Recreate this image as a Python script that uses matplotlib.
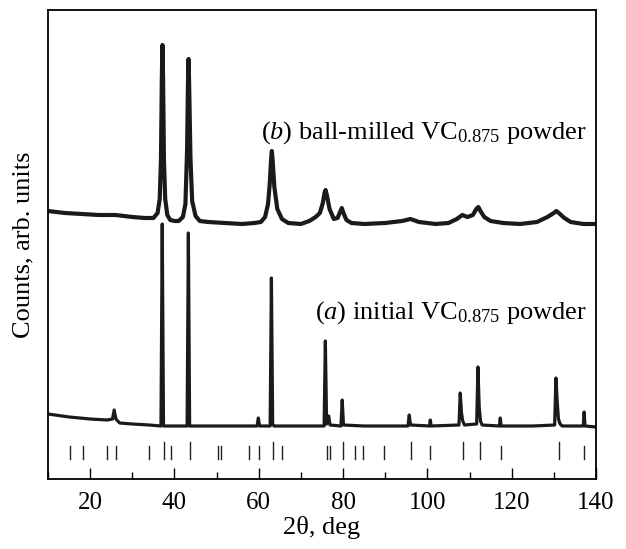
# -*- coding: utf-8 -*-

import matplotlib
matplotlib.use("Agg")
import matplotlib.pyplot as plt
from matplotlib.ticker import MultipleLocator

# (b) ball-milled powder trace: 2theta, counts (arb.)
tth_b = [10, 14, 18, 22, 26, 30, 33, 35, 36, 36.5, 36.8, 37.0, 37.15, 37.3, 37.5, 37.8, 38.3, 39,
         40, 41, 42, 42.6, 43.0, 43.2, 43.35, 43.5, 43.8, 44.2, 45, 46, 48, 52, 56, 59,
         60.5, 61.5, 62.2, 62.6, 62.9, 63.1, 63.3, 63.7, 64.4, 65.5, 67, 70, 72, 73.5, 74.5,
         75.2, 75.6, 75.85, 76.2, 76.8, 77.8, 78.7, 79.3, 79.7, 80.1, 80.8, 82, 85, 90, 94,
         96, 98, 102, 105, 107, 108.3, 109.5, 110.8, 111.6, 112.1, 112.6, 113.5, 115, 118,
         122, 126, 128.5, 130, 130.6, 131.2, 132.5, 134, 137, 140]
cnt_b = [268, 266, 265, 264, 264, 262, 261, 261, 266, 280, 320, 400, 434, 400, 320, 280, 264, 259,
         258, 258, 262, 275, 330, 395, 420, 390, 320, 278, 263, 258, 257, 256, 255, 256,
         257, 262, 275, 295, 318, 328, 318, 292, 270, 260, 256, 255, 258, 262, 266,
         276, 286, 289, 283, 270, 260, 261, 267, 271, 266, 259, 256, 255, 256, 258,
         260, 257, 255, 256, 260, 264, 262, 264, 270, 272, 268, 262, 258, 256,
         255, 257, 262, 266, 268, 266, 261, 257, 255, 255]

# (a) initial powder trace
tth_a = [10, 15, 20, 24, 25.3, 25.7, 26.1, 27, 30, 34, 36.8, 37.1, 37.4, 40, 43.0, 43.3, 43.6,
         50, 55, 59.6, 59.9, 60.2, 62.7, 63.0, 63.3, 63.6, 70, 75.5, 75.8, 76.1, 76.6, 76.9,
         79.5, 79.8, 80.1, 85, 90, 95.4, 95.7, 96.0, 100.5, 100.7, 100.9, 107.5, 107.8, 108.1,
         108.4, 108.8, 111.7, 112.0, 112.3, 112.6, 113, 117.1, 117.3, 117.5, 125, 130.2, 130.5,
         130.8, 131.1, 131.5, 132, 137.0, 137.2, 137.4, 140]
cnt_a = [65, 62, 60, 59, 60, 69, 60, 56, 55, 54, 53, 255, 53, 53, 53, 246, 53,
         53, 53, 53, 61, 53, 53, 201, 55, 53, 53, 53, 138, 55, 63, 54,
         53, 79, 54, 53, 53, 53, 64, 54, 53, 59, 53, 54, 86, 66,
         58, 54, 55, 112, 72, 58, 54, 53, 61, 53, 53, 54, 101,
         78, 60, 55, 53, 53, 67, 53, 52]

# reference stick pattern (positions, tall or short)
stick_pos = [15.2, 18.2, 24.1, 26.1, 34.0, 37.4, 39.1, 43.6, 50.3, 51.1, 57.6, 60.0, 63.4, 65.4,
             76.1, 76.9, 80.1, 82.9, 84.8, 89.6, 96.1, 100.7, 108.4, 112.4, 117.4, 131.2, 137.1]
stick_tall = [0, 0, 0, 0, 0, 1, 0, 1, 0, 0, 0, 0, 1, 0,
              0, 0, 1, 0, 0, 0, 1, 0, 1, 1, 0, 1, 0]

label_b = r'($\mathit{b}$) ball-milled VC$_{0.875}$ powder'
label_a = r'($\mathit{a}$) initial VC$_{0.875}$ powder'


def draw():
    plt.rcParams['font.family'] = ['Liberation Serif', 'DejaVu Serif']
    plt.rcParams['mathtext.fontset'] = 'custom'
    plt.rcParams['mathtext.rm'] = 'Liberation Serif'
    plt.rcParams['mathtext.it'] = 'Liberation Serif:italic'

    fig = plt.figure(figsize=(6.26, 5.49), dpi=100)
    ax = fig.add_axes([0.0767, 0.1275, 0.8753, 0.8543])

    # noisy traces in the original look like a thick band
    ax.plot(tth_a, cnt_a, color='#1a1a1a', lw=2.3)
    ax.plot(tth_b, cnt_b, color='#1a1a1a', lw=3.0)

    # sticks
    for p, t in zip(stick_pos, stick_tall):
        ax.plot([p, p], [20, 37 if t else 33], color='#222222', lw=1.0)

    ax.text(137.8, 346, label_b, ha='right', va='center', fontsize=19)
    ax.text(137.8, 166, label_a, ha='right', va='center', fontsize=19)

    ax.set_xlim(10, 140)
    ax.set_ylim(0, 469)
    ax.xaxis.set_major_locator(MultipleLocator(20))
    ax.xaxis.set_minor_locator(MultipleLocator(10))
    ax.tick_params(axis='x', which='major', direction='in', length=8, width=1, labelsize=18, pad=9)
    ax.tick_params(axis='x', which='minor', direction='in', length=5, width=1)
    ax.set_yticks([])
    for s in ax.spines.values():
        s.set_linewidth(1.3)

    ax.set_xlabel(u'2\u03b8, deg', fontsize=19, labelpad=2)
    ax.set_ylabel('Counts, arb. units', fontsize=19, labelpad=10)

    fig.savefig('out.png', dpi=100)


if __name__ == "__main__":
    draw()
